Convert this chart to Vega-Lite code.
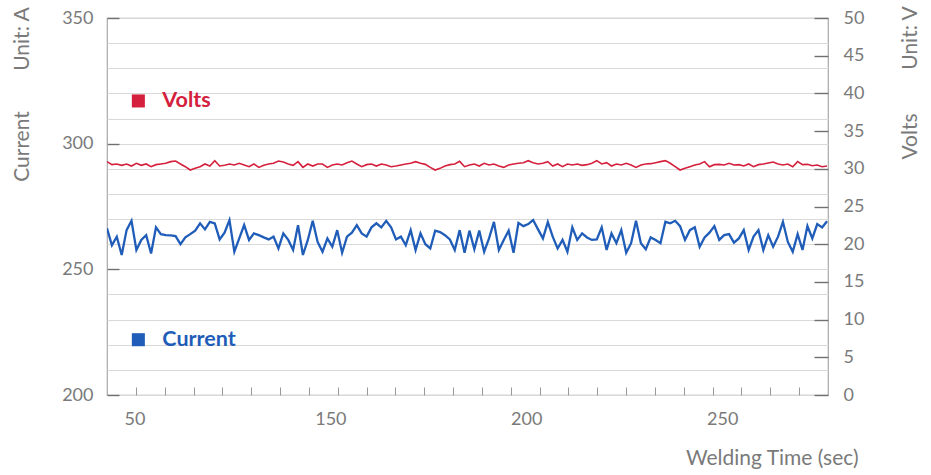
{
  "$schema": "https://vega.github.io/schema/vega-lite/v6.json",
  "width": 721,
  "height": 377,
  "autosize": {"type": "none"},
  "padding": {"left": 107, "top": 18, "right": 103, "bottom": 80},
  "background": "white",
  "config": {
    "font": "Lato",
    "view": {"stroke": "#a8a8a8", "strokeWidth": 1.2},
    "axis": {"labelColor": "#7a7a7a", "labelFontSize": 18, "titleColor": "#7a7a7a", "titleFontSize": 21, "titleFontWeight": "normal", "labelFont": "Lato", "titleFont": "Lato"}
  },
  "datasets": {
    "series": [
      {"t":93,"current":266.3,"volts":30.95},{"t":94.25,"current":259.6,"volts":30.55},{"t":95.5,"current":263.0,"volts":30.64},{"t":96.75,"current":255.7,"volts":30.46},{"t":98,"current":265.6,"volts":30.64},{"t":99.25,"current":269.3,"volts":30.37},{"t":100.5,"current":257.7,"volts":30.73},{"t":101.75,"current":261.7,"volts":30.46},{"t":103,"current":263.6,"volts":30.64},{"t":104.25,"current":256.3,"volts":30.28},
      {"t":105.5,"current":266.7,"volts":30.55},{"t":106.75,"current":264.0,"volts":30.64},{"t":108,"current":263.6,"volts":30.73},{"t":109.25,"current":263.5,"volts":30.95},{"t":110.5,"current":263.2,"volts":31.03},{"t":111.75,"current":260.0,"volts":30.64},{"t":113,"current":262.7,"volts":30.28},{"t":114.25,"current":264.0,"volts":29.84},{"t":115.5,"current":265.4,"volts":30.06},{"t":116.75,"current":268.3,"volts":30.28},
      {"t":118,"current":265.9,"volts":30.64},{"t":119.25,"current":268.9,"volts":30.37},{"t":120.5,"current":268.3,"volts":31.08},{"t":121.75,"current":261.9,"volts":30.37},{"t":123,"current":264.6,"volts":30.46},{"t":124.25,"current":269.6,"volts":30.64},{"t":125.5,"current":257.0,"volts":30.50},{"t":126.75,"current":262.3,"volts":30.73},{"t":128,"current":267.6,"volts":30.50},{"t":129.25,"current":261.7,"volts":30.28},
      {"t":130.5,"current":264.3,"volts":30.64},{"t":131.75,"current":263.6,"volts":30.19},{"t":133,"current":262.7,"volts":30.46},{"t":134.25,"current":261.9,"volts":30.64},{"t":135.5,"current":263.0,"volts":30.73},{"t":136.75,"current":258.3,"volts":31.03},{"t":138,"current":264.3,"volts":30.90},{"t":139.25,"current":261.7,"volts":30.64},{"t":140.5,"current":257.7,"volts":30.46},{"t":141.75,"current":267.6,"volts":30.95},
      {"t":143,"current":255.7,"volts":30.19},{"t":144.25,"current":261.7,"volts":30.64},{"t":145.5,"current":269.3,"volts":30.37},{"t":146.75,"current":260.9,"volts":30.64},{"t":148,"current":257.0,"volts":30.64},{"t":149.25,"current":262.3,"volts":30.19},{"t":150.5,"current":259.0,"volts":30.50},{"t":151.75,"current":265.6,"volts":30.64},{"t":153,"current":256.6,"volts":30.50},{"t":154.25,"current":263.0,"volts":30.81},
      {"t":155.5,"current":264.6,"volts":31.03},{"t":156.75,"current":267.6,"volts":30.64},{"t":158,"current":264.3,"volts":30.28},{"t":159.25,"current":263.0,"volts":30.55},{"t":160.5,"current":266.7,"volts":30.64},{"t":161.75,"current":268.3,"volts":30.37},{"t":163,"current":266.7,"volts":30.64},{"t":164.25,"current":269.3,"volts":30.50},{"t":165.5,"current":266.7,"volts":30.28},{"t":166.75,"current":261.9,"volts":30.37},
      {"t":168,"current":263.0,"volts":30.50},{"t":169.25,"current":259.6,"volts":30.64},{"t":170.5,"current":265.6,"volts":30.73},{"t":171.75,"current":257.7,"volts":30.95},{"t":173,"current":264.3,"volts":30.73},{"t":174.25,"current":260.0,"volts":30.59},{"t":175.5,"current":258.3,"volts":30.19},{"t":176.75,"current":265.4,"volts":29.84},{"t":178,"current":264.8,"volts":30.06},{"t":179.25,"current":263.6,"volts":30.37},
      {"t":180.5,"current":261.9,"volts":30.55},{"t":181.75,"current":257.7,"volts":30.64},{"t":183,"current":265.6,"volts":30.99},{"t":184.25,"current":256.6,"volts":30.28},{"t":185.5,"current":265.4,"volts":30.50},{"t":186.75,"current":258.0,"volts":30.64},{"t":188,"current":265.4,"volts":30.37},{"t":189.25,"current":257.0,"volts":30.73},{"t":190.5,"current":262.3,"volts":30.50},{"t":191.75,"current":268.9,"volts":30.64},
      {"t":193,"current":257.7,"volts":30.37},{"t":194.25,"current":261.7,"volts":30.19},{"t":195.5,"current":265.4,"volts":30.50},{"t":196.75,"current":256.6,"volts":30.64},{"t":198,"current":268.5,"volts":30.73},{"t":199.25,"current":267.2,"volts":30.81},{"t":200.5,"current":268.0,"volts":31.08},{"t":201.75,"current":269.6,"volts":30.81},{"t":203,"current":265.9,"volts":30.64},{"t":204.25,"current":262.3,"volts":30.73},
      {"t":205.5,"current":268.8,"volts":30.95},{"t":206.75,"current":263.0,"volts":30.37},{"t":208,"current":258.3,"volts":30.64},{"t":209.25,"current":261.7,"volts":30.28},{"t":210.5,"current":257.0,"volts":30.64},{"t":211.75,"current":266.7,"volts":30.50},{"t":213,"current":261.7,"volts":30.64},{"t":214.25,"current":264.3,"volts":30.46},{"t":215.5,"current":262.7,"volts":30.55},{"t":216.75,"current":261.7,"volts":30.73},
      {"t":218,"current":261.9,"volts":31.08},{"t":219.25,"current":266.7,"volts":30.64},{"t":220.5,"current":257.7,"volts":30.81},{"t":221.75,"current":264.3,"volts":30.37},{"t":223,"current":260.4,"volts":30.64},{"t":224.25,"current":265.6,"volts":30.50},{"t":225.5,"current":256.6,"volts":30.73},{"t":226.75,"current":260.4,"volts":30.50},{"t":228,"current":269.3,"volts":30.19},{"t":229.25,"current":260.4,"volts":30.50},
      {"t":230.5,"current":258.0,"volts":30.64},{"t":231.75,"current":262.7,"volts":30.68},{"t":233,"current":261.7,"volts":30.81},{"t":234.25,"current":260.4,"volts":30.95},{"t":235.5,"current":268.9,"volts":31.08},{"t":236.75,"current":268.3,"volts":30.73},{"t":238,"current":269.3,"volts":30.28},{"t":239.25,"current":267.2,"volts":29.84},{"t":240.5,"current":261.7,"volts":30.06},{"t":241.75,"current":265.6,"volts":30.28},
      {"t":243,"current":266.7,"volts":30.50},{"t":244.25,"current":259.0,"volts":30.64},{"t":245.5,"current":262.7,"volts":30.95},{"t":246.75,"current":264.6,"volts":30.28},{"t":248,"current":267.2,"volts":30.55},{"t":249.25,"current":261.7,"volts":30.59},{"t":250.5,"current":263.6,"volts":30.50},{"t":251.75,"current":264.0,"volts":30.73},{"t":253,"current":260.6,"volts":30.50},{"t":254.25,"current":262.3,"volts":30.55},
      {"t":255.5,"current":265.6,"volts":30.37},{"t":256.75,"current":257.7,"volts":30.64},{"t":258,"current":263.0,"volts":30.28},{"t":259.25,"current":265.6,"volts":30.55},{"t":260.5,"current":257.7,"volts":30.64},{"t":261.75,"current":263.6,"volts":30.77},{"t":263,"current":259.0,"volts":30.90},{"t":264.25,"current":263.0,"volts":30.64},{"t":265.5,"current":268.9,"volts":30.50},{"t":266.75,"current":260.9,"volts":30.64},
      {"t":268,"current":257.0,"volts":30.28},{"t":269.25,"current":264.0,"volts":30.95},{"t":270.5,"current":257.7,"volts":30.55},{"t":271.75,"current":267.2,"volts":30.59},{"t":273,"current":262.3,"volts":30.41},{"t":274.25,"current":268.0,"volts":30.50},{"t":275.5,"current":266.7,"volts":30.28},{"t":276.75,"current":269.1,"volts":30.37}
    ],
    "legend": [
      {"t": 101, "a": 317, "label": "Volts"},
      {"t": 101, "a": 222, "label": "Current"}
    ]
  },
  "layer": [
    {
      "data": {"name": "series"},
      "mark": {"type": "line", "color": "#1f5db8", "strokeWidth": 2.3, "clip": true},
      "encoding": {
        "x": {"field": "t", "type": "quantitative", "scale": {"domain": [93, 277], "nice": false, "zero": false},
          "axis": {"orient": "bottom", "values": [100, 150, 200, 250], "labelExpr": "datum.value == 100 ? '50' : datum.label", "ticks": false, "domain": false, "grid": false, "labelPadding": 15,
            "title": "Welding Time (sec)", "titleX": 751, "titleY": 63, "titleAlign": "right", "titleBaseline": "middle", "titleAnchor": "end"}},
        "y": {"field": "current", "type": "quantitative", "scale": {"domain": [200, 350], "nice": false, "zero": false},
          "axis": {"orient": "left", "offset": -12, "values": [200, 250, 300, 350], "grid": false, "domain": false, "ticks": true, "tickSize": 12, "tickWidth": 1.4, "tickColor": "#707070", "labelPadding": 14, "zindex": 1,
            "title": "Current", "titleX": -97, "titleY": 128, "titleAlign": "center", "titleBaseline": "middle", "titleAngle": -90}}
      }
    },
    {
      "data": {"name": "series"},
      "mark": {"type": "line", "color": "#d4203c", "strokeWidth": 1.6, "clip": true},
      "encoding": {
        "x": {"field": "t", "type": "quantitative", "scale": {"domain": [93, 277], "nice": false, "zero": false},
          "axis": {"orient": "bottom", "offset": -8, "values": [100.36,107.72,115.08,122.44,129.8,137.16,144.52,151.88,159.24,166.6,173.96,181.32,188.68,196.04,203.4,210.76,218.12,225.48,232.84,240.2,247.56,254.92,262.28,269.64], "ticks": true, "tickSize": 8, "tickColor": "#999999", "labels": false, "domain": false, "grid": false, "title": null}},
        "y": {"field": "volts", "type": "quantitative", "scale": {"domain": [0, 50], "nice": false, "zero": false},
          "axis": {"orient": "right", "offset": -14, "values": [0, 5, 10, 15, 20, 25, 30, 35, 40, 45, 50], "grid": false, "domain": false, "ticks": true, "tickSize": 14, "tickWidth": 1.4, "tickColor": "#707070", "labelPadding": 15, "zindex": 1,
            "title": "Volts", "titleX": 96, "titleY": 118, "titleAlign": "center", "titleBaseline": "middle", "titleAngle": -90}}
      }
    },
    {
      "data": {"name": "legend"},
      "mark": {"type": "point", "shape": "square", "filled": true, "size": 170, "opacity": 1},
      "encoding": {
        "x": {"field": "t", "type": "quantitative", "scale": {"domain": [93, 277], "nice": false, "zero": false}, "axis": null},
        "y": {"field": "a", "type": "quantitative", "scale": {"domain": [200, 350], "nice": false, "zero": false},
          "axis": {"orient": "left", "values": [200,210,220,230,240,250,260,270,280,290,300,310,320,330,340,350], "grid": true, "gridColor": "#d9d9d9", "gridWidth": 1.2, "labels": false, "ticks": false, "domain": false,
            "title": "Unit: A", "titleX": -85, "titleY": 20.5, "titleAlign": "center", "titleBaseline": "middle", "titleAngle": -90}},
        "color": {"field": "label", "type": "nominal", "scale": {"domain": ["Volts", "Current"], "range": ["#d4203c", "#1f5db8"]}, "legend": null}
      }
    },
    {
      "data": {"name": "legend"},
      "mark": {"type": "text", "align": "left", "baseline": "middle", "dx": 24, "fontSize": 21.5, "fontWeight": "bold", "font": "Lato"},
      "encoding": {
        "x": {"field": "t", "type": "quantitative", "scale": {"domain": [93, 277], "nice": false, "zero": false}, "axis": null},
        "y": {"field": "a", "type": "quantitative", "scale": {"domain": [200, 350], "nice": false, "zero": false},
          "axis": {"orient": "right", "labels": false, "ticks": false, "domain": false, "grid": false,
            "title": "Unit: V", "titleX": 82, "titleY": 19.5, "titleAlign": "center", "titleBaseline": "middle", "titleAngle": -90}},
        "text": {"field": "label"},
        "color": {"field": "label", "type": "nominal", "scale": {"domain": ["Volts", "Current"], "range": ["#d4203c", "#1f5db8"]}, "legend": null}
      }
    }
  ],
  "resolve": {"scale": {"y": "independent"}, "axis": {"x": "independent", "y": "independent"}}
}
